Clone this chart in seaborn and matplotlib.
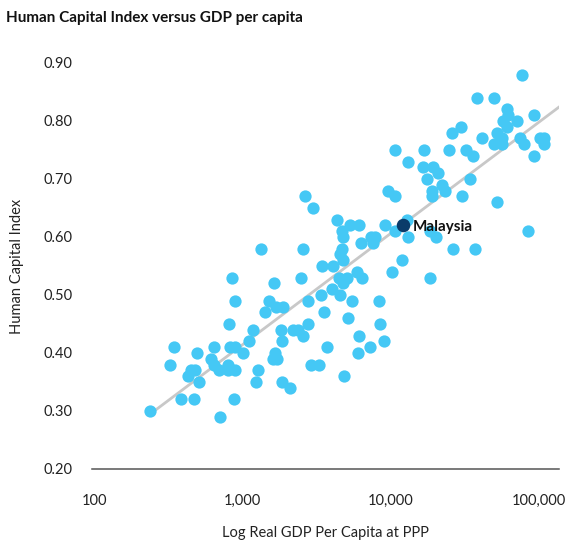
import matplotlib
matplotlib.use('Agg')
import matplotlib.pyplot as plt
import seaborn as sns
import pandas as pd

# GDP per capita (PPP) and Human Capital Index
gdp_per_capita = [
    240, 325, 346, 388, 427, 451, 476, 472, 495, 512,
    615, 645, 648, 697, 707, 801, 805, 813, 826, 893,
    856, 883, 889, 893, 1006, 1115, 1175, 1243, 1282, 1331,
    1422, 1507, 1603, 1644, 1662, 1688, 1706, 1824, 1844, 1844,
    1873, 2097,
    10710, 16800, 13000, 16460, 17470, 2650, 2980, 9560, 10710, 4330,
    5320, 6090, 4720, 4800, 9210, 10710, 13160, 18440, 7340, 7850,
    7650, 6320, 2580, 4720, 4560, 4800, 3460, 4110, 11880, 10220,
    5960, 6420, 2490, 4510, 5060, 4750, 4050, 4560, 18440, 3410,
    2790, 5490, 8350, 3570, 5190, 2770, 8520, 2190, 2390, 2560,
    6120, 9070, 3710, 7260, 6060, 2890, 3310, 4850, 12840,
    76930, 38240, 49800, 60660, 93110, 57540, 62190, 70850, 60660, 29700,
    25830, 51930, 41150, 56130, 74570, 101700, 108200, 50030, 56130, 79340,
    108200, 24770, 32090, 36120, 92680, 19410, 20980, 34310, 22120, 23270,
    19020, 18930, 30160, 52420, 20240, 84840, 26150, 37200,
]
hci = [
    0.30, 0.38, 0.41, 0.32, 0.36, 0.37, 0.37, 0.32, 0.40, 0.35,
    0.39, 0.41, 0.38, 0.37, 0.29, 0.38, 0.37, 0.45, 0.41, 0.41,
    0.53, 0.32, 0.37, 0.49, 0.40, 0.42, 0.44, 0.35, 0.37, 0.58,
    0.47, 0.49, 0.39, 0.52, 0.40, 0.48, 0.39, 0.44, 0.42, 0.35,
    0.48, 0.34,
    0.75, 0.75, 0.73, 0.72, 0.70, 0.67, 0.65, 0.68, 0.67, 0.63,
    0.62, 0.62, 0.61, 0.60, 0.62, 0.61, 0.60, 0.61, 0.60, 0.60,
    0.59, 0.59, 0.58, 0.58, 0.57, 0.56, 0.55, 0.55, 0.56, 0.54,
    0.54, 0.53, 0.53, 0.53, 0.53, 0.52, 0.51, 0.50, 0.53, 0.50,
    0.49, 0.49, 0.49, 0.47, 0.46, 0.45, 0.45, 0.44, 0.44, 0.43,
    0.43, 0.42, 0.41, 0.41, 0.40, 0.38, 0.38, 0.36, 0.63,
    0.88, 0.84, 0.84, 0.82, 0.81, 0.80, 0.81, 0.80, 0.79, 0.79,
    0.78, 0.78, 0.77, 0.77, 0.77, 0.77, 0.77, 0.76, 0.76, 0.76,
    0.76, 0.75, 0.75, 0.74, 0.74, 0.72, 0.71, 0.70, 0.69, 0.68,
    0.68, 0.67, 0.67, 0.66, 0.60, 0.61, 0.58, 0.58,
]

# highlighted country
malaysia_gdp = [12070]
malaysia_hci = [0.62]

# trend line end points
trend_gdp = [240, 145000]
trend_hci = [0.295, 0.829]

x_ticks = [100, 1000, 10000, 100000]
x_tick_labels = ['100', '1,000', '10,000', '100,000']
y_ticks = [0.2, 0.3, 0.4, 0.5, 0.6, 0.7, 0.8, 0.9]

df = pd.DataFrame({'gdp': gdp_per_capita, 'hci': hci})

sns.set_style('white')
plt.rcParams['font.family'] = ['Lato', 'DejaVu Sans']

fig = plt.figure(figsize=(5.71, 5.4), dpi=100)
ax = fig.add_axes([92/571, 71/540, 467/571, 406/540])

sns.lineplot(x=trend_gdp, y=trend_hci, ax=ax, color='#c8c8c8', linewidth=2, zorder=1)
sns.scatterplot(data=df, x='gdp', y='hci', ax=ax, color='#45c8f5', s=78,
                linewidth=0, alpha=1, zorder=2, clip_on=False)
sns.scatterplot(x=malaysia_gdp, y=malaysia_hci, ax=ax, color='#0b3c6a', s=95,
                linewidth=0, zorder=3, clip_on=False)
ax.annotate('Malaysia', (malaysia_gdp[0], malaysia_hci[0]), xytext=(7, -1),
            textcoords='offset points', va='center', ha='left',
            fontsize=11, fontweight='bold', color='#111111')

ax.set_xscale('log')
ax.set_xlim(96.9, 136600)
ax.set_ylim(0.2, 0.9)
ax.set_xticks(x_ticks)
ax.set_xticklabels(x_tick_labels)
ax.minorticks_off()
ax.set_yticks(y_ticks)
ax.set_yticklabels([f'{v:.2f}' for v in y_ticks])

ax.tick_params(axis='x', length=0, pad=18, labelsize=10.5, labelcolor='#222222')
ax.tick_params(axis='y', length=0, pad=14, labelsize=10.5, labelcolor='#222222')

ax.set_xlabel('Log Real GDP Per Capita at PPP', fontsize=10.5, color='#222222', labelpad=13)
ax.set_ylabel('Human Capital Index', fontsize=10.5, color='#222222', labelpad=14)

sns.despine(ax=ax, left=True, top=True, right=True)
ax.spines['bottom'].set_color('#555555')
ax.spines['bottom'].set_linewidth(1.1)
ax.grid(False)

fig.text(6/571, 1 - 22/540, 'Human Capital Index versus GDP per capita',
         fontsize=11, fontweight='bold', color='#111111', va='baseline', ha='left')

fig.savefig('out.png', dpi=100)
